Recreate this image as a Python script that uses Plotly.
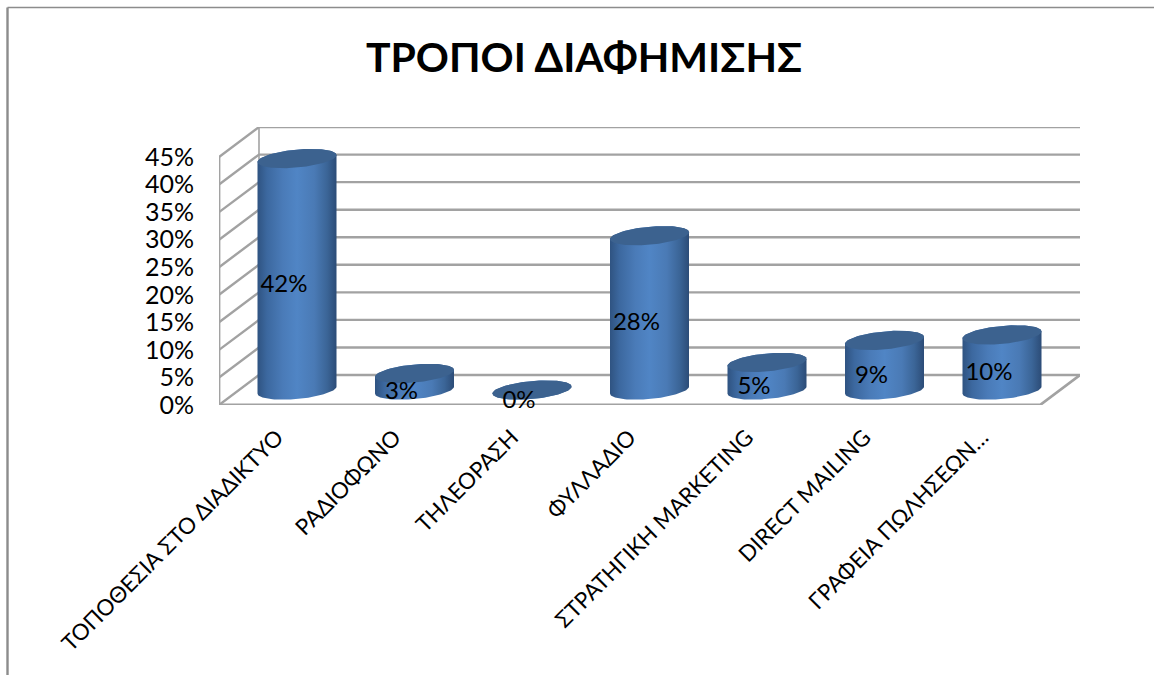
import plotly.graph_objects as go
import numpy as np

# ---- data ----
categories = ["ΤΟΠΟΘΕΣΙΑ ΣΤΟ ΔΙΑΔΙΚΤΥΟ", "ΡΑΔΙΟΦΩΝΟ", "ΤΗΛΕΟΡΑΣΗ", "ΦΥΛΛΑΔΙΟ",
              "ΣΤΡΑΤΗΓΙΚΗ MARKETING", "DIRECT MAILING", "ΓΡΑΦΕΙΑ ΠΩΛΗΣΕΩΝ…"]
values = [42, 3, 0, 28, 5, 9, 10]
y_ticks = [0, 5, 10, 15, 20, 25, 30, 35, 40, 45]
title_text = "ΤΡΟΠΟΙ ΔΙΑΦΗΜΙΣΗΣ"

# ---- pseudo-3D geometry (axis units) ----
W, H = 1154, 675
L, R, T, B = 219, 1080, 127, 405
PX_X = 117.5                 # pixels per category
PX_Y = 5.51                  # pixels per percent
X0 = 297                     # pixel of first category centre
x_range = [(L - X0) / PX_X, (R - X0) / PX_X]
y_range = [0, (B - T) / PX_Y]
DX = 40 / PX_X               # depth of the box
DY = 30 / PX_Y
HALF_W = 39.5 / PX_X         # cylinder radius
ELL_H = 9 / PX_Y             # ellipse half height
SKEW = 3.5 / PX_Y            # ellipse tilt
BASE = DY / 2                # cylinders stand mid depth
FRONT_L, FRONT_R = x_range[0], x_range[1] - DX
BACK_L, BACK_R = x_range[0] + DX, x_range[1]

GRID = "#a2a2a2"
font = "Lato, 'Open Sans', sans-serif"
fig = go.Figure()


def line(xs, ys, width=2.4, color=GRID):
    fig.add_trace(go.Scatter(x=xs, y=ys, mode="lines", hoverinfo="skip", cliponaxis=False,
                             line=dict(color=color, width=width), showlegend=False))


# walls and floor
for v in y_ticks:
    line([FRONT_L, BACK_L, BACK_R], [v, v + DY, v + DY])
line([FRONT_L, FRONT_L], [0, y_ticks[-1]], 2.8)
line([BACK_L, BACK_L], [DY, y_ticks[-1] + DY], 1.6)
line([FRONT_L, FRONT_R, BACK_R], [0, 0, DY], 2.8)

# cylinders
t_low = np.linspace(np.pi, 2 * np.pi, 50)
t_high = np.linspace(0, np.pi, 50)
t_all = np.linspace(0, 2 * np.pi, 100)
body_scale = [[0, "#2f5381"], [0.12, "#3c689f"], [0.32, "#4a7bb8"], [0.5, "#5085c5"],
              [0.72, "#4a7ab5"], [0.88, "#3b6597"], [1, "#2c4c77"]]
for i, v in enumerate(values):
    top = BASE + v
    # screen-down half of the base ellipse, then the screen-up half of the top ellipse
    xb = i + HALF_W * np.cos(t_low)
    yb = BASE + ELL_H * np.sin(t_low) + SKEW * np.cos(t_low)
    xt = i + HALF_W * np.cos(t_high)
    yt = top + ELL_H * np.sin(t_high) + SKEW * np.cos(t_high)
    fig.add_trace(go.Scatter(
        x=np.r_[xb, xt], y=np.r_[yb, yt], mode="lines", fill="toself",
        line=dict(width=0, color="rgba(0,0,0,0)"), hoverinfo="skip", showlegend=False,
        fillgradient=dict(type="horizontal", colorscale=body_scale)))
    fig.add_trace(go.Scatter(
        x=i + HALF_W * np.cos(t_all),
        y=top + ELL_H * np.sin(t_all) + SKEW * np.cos(t_all),
        mode="lines", fill="toself", fillcolor="#3c628f",
        line=dict(width=0, color="rgba(0,0,0,0)"), hoverinfo="skip", showlegend=False))

# data labels
fig.add_trace(go.Scatter(
    x=[i - 13 / PX_X for i in range(len(values))],
    y=[BASE + v / 2 - 2.1 for v in values],
    mode="text", text=[f"{v}%" for v in values], hoverinfo="skip", showlegend=False,
    textposition="middle center", cliponaxis=False,
    textfont=dict(size=24, color="#000000", family=font)))

# chart frame
plot_w, plot_h = R - L, B - T
px = lambda p: (p - L) / plot_w
py = lambda p: (B - p) / plot_h
fig.add_shape(type="line", xref="paper", yref="paper", x0=px(7.5), x1=px(7.5),
              y0=py(H), y1=py(7.5), line=dict(color="#8c8c8c", width=2.4))
fig.add_shape(type="line", xref="paper", yref="paper", x0=px(7.5), x1=px(W),
              y0=py(7.5), y1=py(7.5), line=dict(color="#8c8c8c", width=1.6))

fig.update_layout(
    width=W, height=H,
    margin=dict(l=L, r=W - R, t=T, b=H - B, pad=0, autoexpand=False),
    paper_bgcolor="white", plot_bgcolor="white",
    showlegend=False,
    font=dict(family=font, color="#000000"),
    title=dict(text=f"<b>{title_text}</b>", x=584 / W, y=1 - 58 / H, xref="container",
               yref="container", xanchor="center", yanchor="middle",
               font=dict(size=41, family=font, color="#000000")),
    xaxis=dict(range=x_range, tickmode="array",
               tickvals=[i - DX / 2 for i in range(len(categories))],
               ticktext=categories, tickangle=-45, showgrid=False, zeroline=False,
               showline=False, ticks="", ticklabelstandoff=14,
               tickfont=dict(size=22.3, family=font, color="#000000"),
               automargin=False),
    yaxis=dict(range=y_range, tickmode="array", tickvals=y_ticks,
               ticktext=[f"{v}%" for v in y_ticks], showgrid=False, zeroline=False,
               showline=False, ticks="", ticklabelstandoff=24,
               tickfont=dict(size=25, family=font, color="#000000"), automargin=False),
)

fig.write_html("out.html", post_script="document.body.style.margin='0';",
               config=dict(displayModeBar=False))
